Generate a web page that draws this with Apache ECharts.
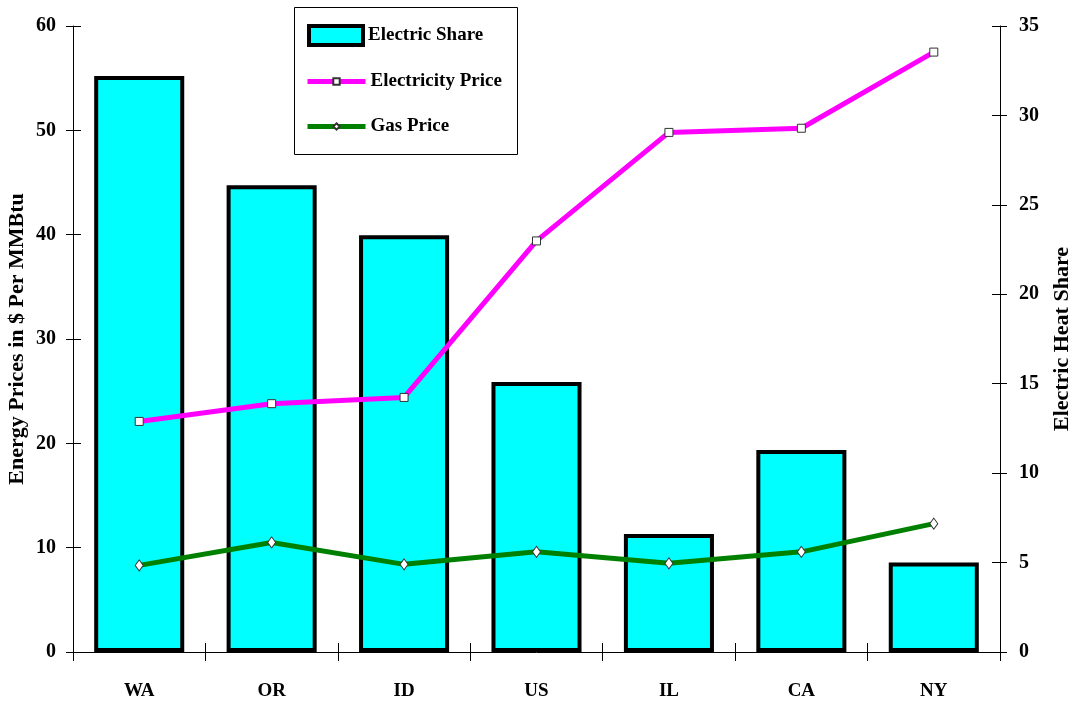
<!DOCTYPE html>
<html>
<head>
<meta charset="utf-8">
<script src="https://cdn.jsdelivr.net/npm/echarts@6/dist/echarts.min.js"></script>
<style>
  html, body { margin: 0; padding: 0; background: #fff; }
  #chart { width: 1073px; height: 703px; }
</style>
</head>
<body>
<div id="chart"></div>
<script>
// States compared
const states = ['WA', 'OR', 'ID', 'US', 'IL', 'CA', 'NY'];
// Share of homes heated with electricity (right axis)
const electricShare = [32.2, 26.1, 23.3, 15.1, 6.6, 11.3, 5.0];
// Energy prices in $ per MMBtu (left axis)
const electricityPrice = [22.1, 23.8, 24.4, 39.4, 49.8, 50.2, 57.5];
const gasPrice = [8.3, 10.5, 8.4, 9.6, 8.5, 9.6, 12.3];

const FONT = '"Liberation Serif", "Times New Roman", serif';
const chart = echarts.init(document.getElementById('chart'));

const tickLabel = { color: '#000', fontFamily: FONT, fontWeight: 'bold', fontSize: 20 };
const axisName = { color: '#000', fontFamily: FONT, fontWeight: 'bold', fontSize: 22 };
const legendText = { color: '#000', fontFamily: FONT, fontWeight: 'bold', fontSize: 19 };

chart.setOption({
  backgroundColor: '#fff',
  animation: false,
  grid: { left: 73, right: 73, top: 26, bottom: 51, outerBoundsMode: 'none', containLabel: false },
  graphic: [{
    type: 'rect',
    shape: { x: 294.5, y: 7.5, width: 223, height: 147 },
    style: { fill: '#fff', stroke: '#000', lineWidth: 1 },
    z: 10
  }],
  legend: [
    {
      data: [{ name: 'Electric Share', icon: 'rect' }], left: 307, top: 24, padding: 0,
      itemWidth: 54, itemHeight: 19, textStyle: legendText, z: 20,
      itemStyle: { borderWidth: 4, borderColor: '#000' },
      selectedMode: false
    },
    {
      data: ['Electricity Price'], left: 305, top: 72, padding: 0,
      itemWidth: 58, itemHeight: 8, textStyle: legendText, z: 20,
      lineStyle: { width: 5, color: '#FF00FF' },
      selectedMode: false
    },
    {
      data: ['Gas Price'], left: 305, top: 117, padding: 0,
      itemWidth: 58, itemHeight: 8, textStyle: legendText, z: 20,
      lineStyle: { width: 5, color: '#008000' },
      selectedMode: false
    }
  ],
  xAxis: [
    {
      type: 'category', data: states, position: 'bottom',
      axisLine: { lineStyle: { color: '#000', width: 1 } },
      axisTick: { show: true, length: 9, lineStyle: { color: '#000' } },
      axisLabel: Object.assign({}, tickLabel, { margin: 30, fontSize: 19 }),
      splitLine: { show: false }
    },
    {
      type: 'category', data: states, position: 'bottom',
      axisLine: { show: false },
      axisTick: { show: true, inside: true, length: 9, lineStyle: { color: '#000' } },
      axisLabel: { show: false },
      splitLine: { show: false }
    }
  ],
  yAxis: [
    {
      type: 'value', position: 'left', min: 0, max: 60, interval: 10,
      name: 'Energy Prices in $ Per MMBtu', nameLocation: 'middle', nameGap: 45,
      nameMoveOverlap: false,
      nameRotate: 90, nameTextStyle: axisName,
      axisLine: { show: true, lineStyle: { color: '#000', width: 1 } },
      axisTick: { show: true, length: 7, lineStyle: { color: '#000' } },
      axisLabel: Object.assign({ margin: 17 }, tickLabel),
      splitLine: { show: false }
    },
    {
      type: 'value', position: 'right', min: 0, max: 35, interval: 5,
      name: 'Electric Heat Share', nameLocation: 'middle', nameGap: 51,
      nameMoveOverlap: false,
      nameRotate: 90, nameTextStyle: axisName,
      axisLine: { show: true, lineStyle: { color: '#000', width: 1 } },
      axisTick: { show: true, length: 7, lineStyle: { color: '#000' } },
      axisLabel: Object.assign({ margin: 19 }, tickLabel),
      splitLine: { show: false }
    },
    {
      type: 'value', position: 'left', min: 0, max: 60, interval: 10,
      axisLine: { show: false },
      axisTick: { show: true, inside: true, length: 8, lineStyle: { color: '#000' } },
      axisLabel: { show: false },
      splitLine: { show: false }
    },
    {
      type: 'value', position: 'right', min: 0, max: 35, interval: 5,
      axisLine: { show: false },
      axisTick: { show: true, inside: true, length: 8, lineStyle: { color: '#000' } },
      axisLabel: { show: false },
      splitLine: { show: false }
    }
  ],
  series: [
    {
      name: 'Electric Share', type: 'bar', yAxisIndex: 1, data: electricShare,
      barWidth: '68%',
      itemStyle: { color: '#00FFFF', borderColor: '#000', borderWidth: 4 }
    },
    {
      name: 'Electricity Price', type: 'line', yAxisIndex: 0, data: electricityPrice,
      symbol: 'rect', symbolSize: 8,
      lineStyle: { color: '#FF00FF', width: 5 },
      itemStyle: { color: '#fff', borderColor: '#333', borderWidth: 1 }
    },
    {
      name: 'Gas Price', type: 'line', yAxisIndex: 0, data: gasPrice,
      symbol: 'diamond', symbolSize: [8, 11],
      lineStyle: { color: '#008000', width: 5 },
      itemStyle: { color: '#fff', borderColor: '#333', borderWidth: 1 }
    }
  ]
});
</script>
</body>
</html>
